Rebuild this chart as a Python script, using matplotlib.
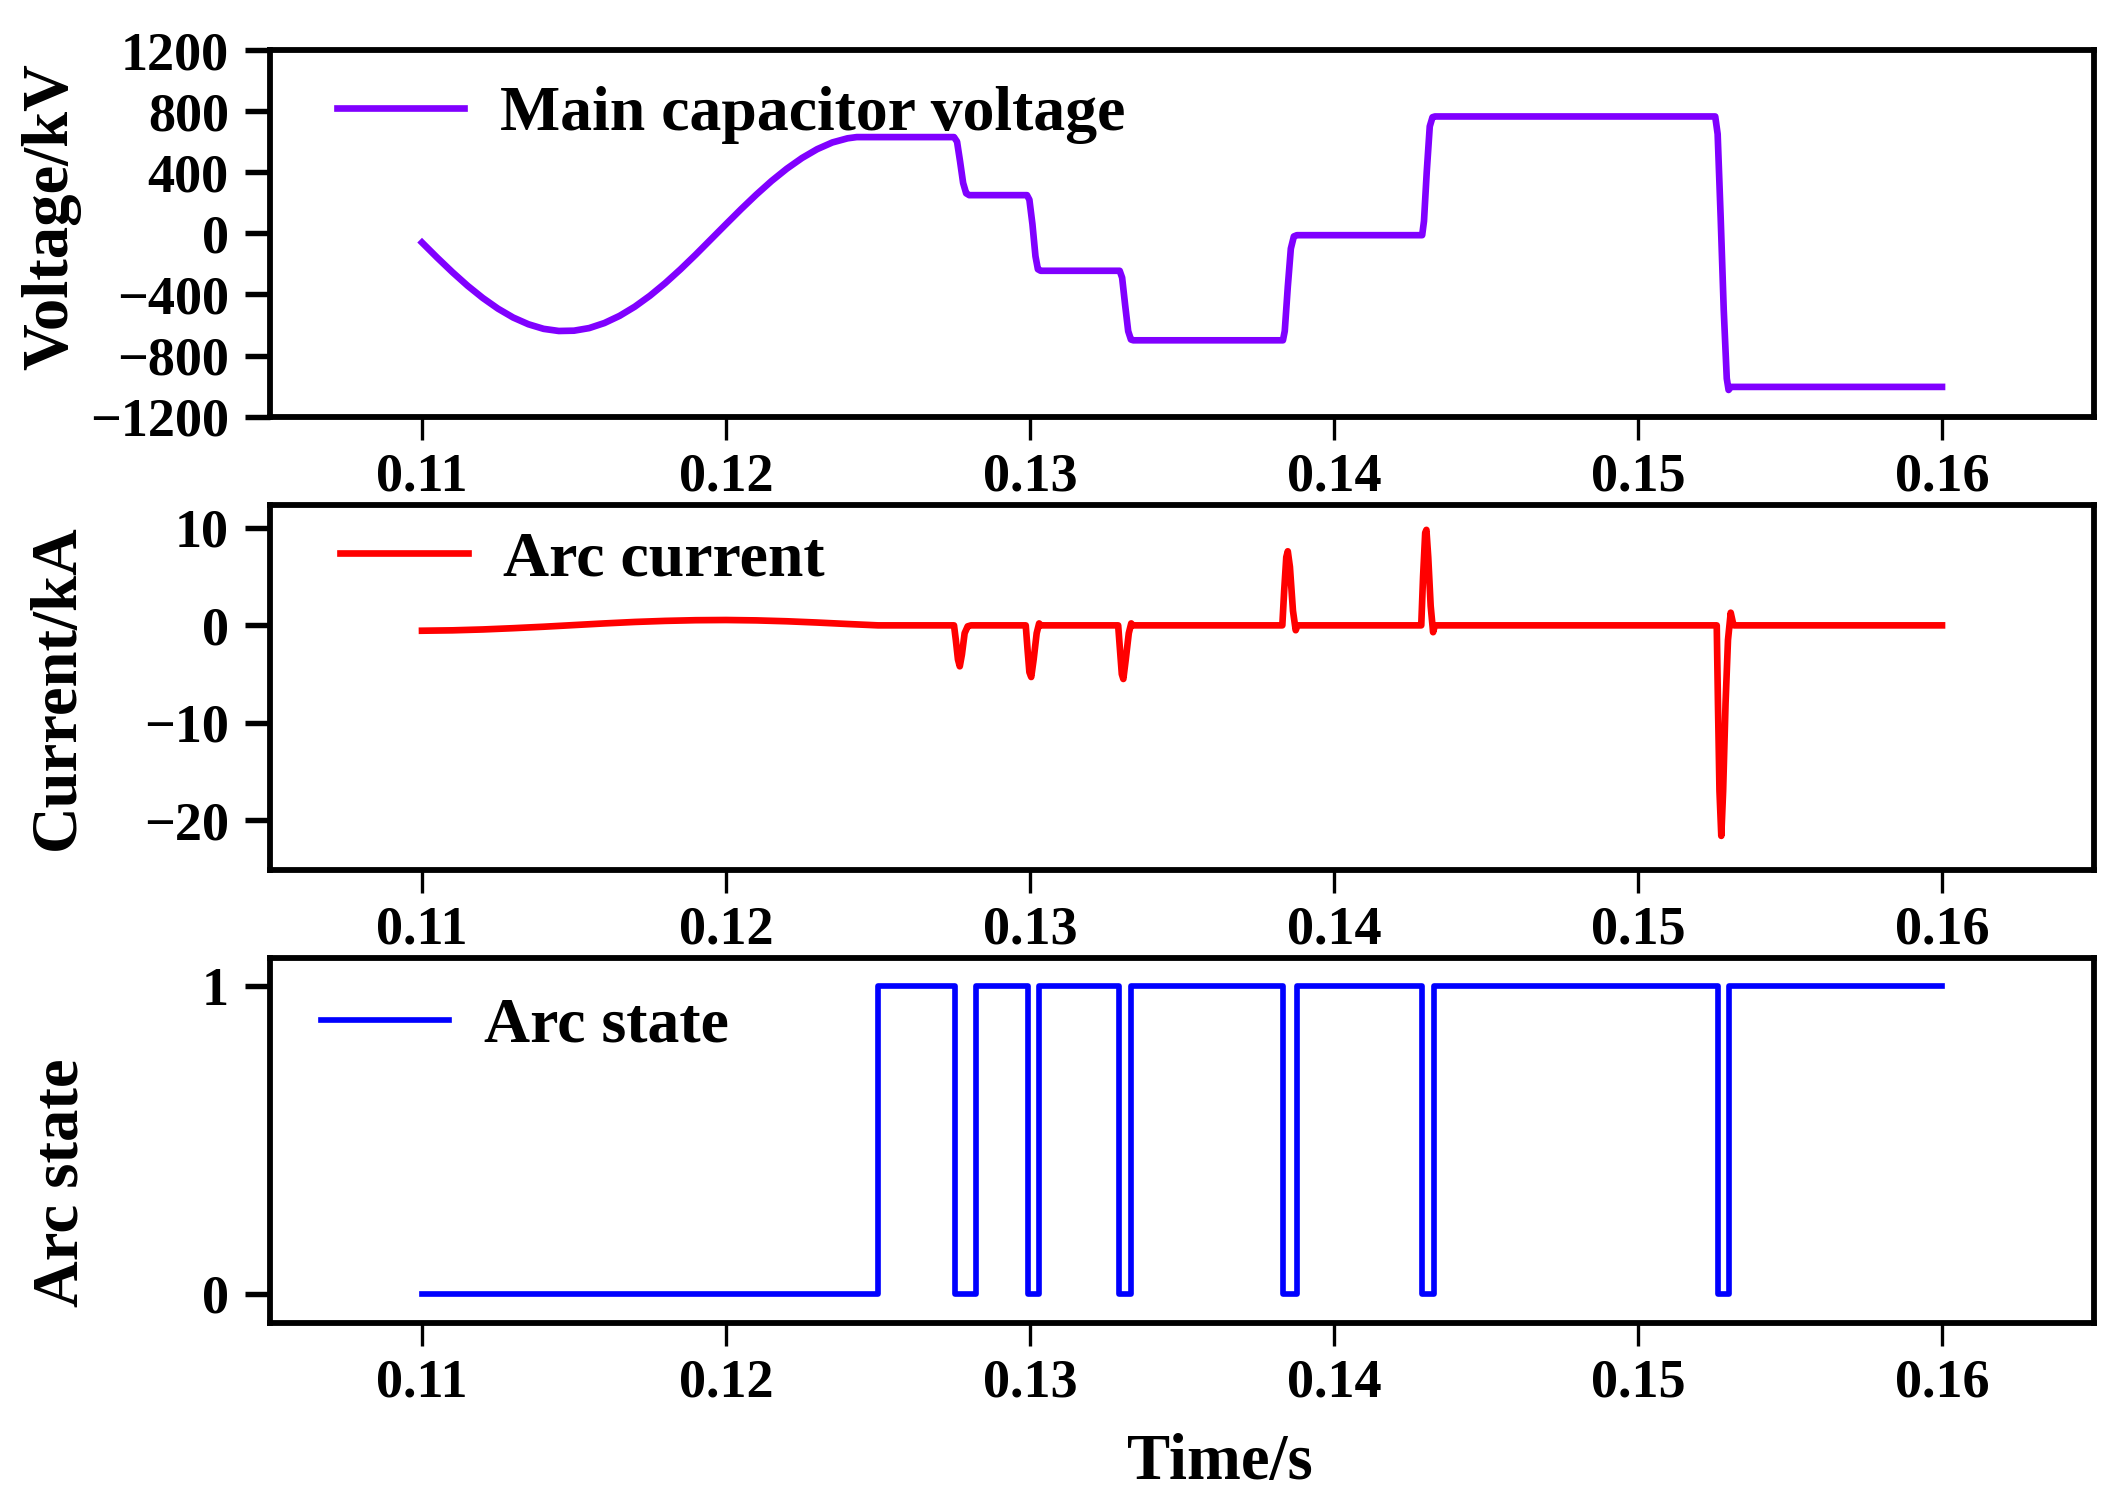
import matplotlib
matplotlib.use("Agg")
import matplotlib.pyplot as plt

# ---------------- data ----------------
t_volt = [0.1100, 0.1105, 0.1110, 0.1115, 0.1120, 0.1125, 0.1130, 0.1135, 0.1140, 0.1145,
          0.1150, 0.1155, 0.1160, 0.1165, 0.1170, 0.1175, 0.1180, 0.1185, 0.1190, 0.1195,
          0.1200, 0.1205, 0.1210, 0.1215, 0.1220, 0.1225, 0.1230, 0.1235, 0.1240, 0.1243,
          0.12750, 0.12760, 0.12770, 0.12780, 0.12790, 0.12800,
          0.12990, 0.12998, 0.13008, 0.13018, 0.13026, 0.13035,
          0.13295, 0.13303, 0.13313, 0.13323, 0.13332, 0.13340,
          0.13832, 0.13838, 0.13848, 0.13858, 0.13868, 0.13878,
          0.14290, 0.14296, 0.14305, 0.14315, 0.14324, 0.14332,
          0.15254, 0.15262, 0.15272, 0.15282, 0.15292, 0.15298, 0.15306, 0.16000]
v_volt = [-60, -159, -254, -343, -423, -493, -551, -595, -625, -639,
          -637, -620, -587, -540, -480, -408, -326, -236, -140, -40,
          60, 159, 254, 343, 423, 493, 551, 595, 622, 630,
          630, 600, 470, 330, 262, 250,
          250, 220, 60, -150, -235, -245,
          -245, -290, -470, -640, -695, -700,
          -700, -640, -350, -100, -20, -12,
          -12, 80, 400, 700, 760, 765,
          765, 650, 100, -500, -950, -1025, -1005, -1005]

t_curr = [0.110, 0.111, 0.112, 0.113, 0.114, 0.115, 0.116, 0.117, 0.118, 0.119,
          0.120, 0.121, 0.122, 0.123, 0.124, 0.125,
          0.12750, 0.12756, 0.12763, 0.12769, 0.12776, 0.12785, 0.12795, 0.12806,
          0.12986, 0.12992, 0.12998, 0.13004, 0.13012, 0.13022, 0.13030, 0.13036,
          0.13290, 0.13296, 0.13302, 0.13307, 0.13315, 0.13325, 0.13333, 0.13338,
          0.13830, 0.13836, 0.13843, 0.13848, 0.13855, 0.13865, 0.13874, 0.13880,
          0.14287, 0.14293, 0.14300, 0.14304, 0.14310, 0.14318, 0.14326, 0.14332,
          0.15259, 0.15263, 0.15268, 0.15274, 0.15280, 0.15288, 0.15296, 0.15305, 0.15312, 0.15316,
          0.16000]
i_curr = [-0.55, -0.51, -0.42, -0.29, -0.14, 0.03, 0.20, 0.35, 0.46, 0.53,
          0.55, 0.51, 0.42, 0.29, 0.14, 0.0,
          0.0, -1.5, -3.5, -4.2, -3.0, -0.8, -0.1, 0.0,
          0.0, -2.5, -4.8, -5.3, -3.5, -0.8, 0.2, 0.0,
          0.0, -2.5, -5.0, -5.5, -3.5, -0.8, 0.2, 0.0,
          0.0, 3.5, 7.0, 7.6, 6.0, 1.5, -0.5, 0.0,
          0.0, 5.0, 9.5, 9.8, 7.0, 2.0, -0.7, 0.0,
          0.0, -8.0, -17.0, -21.6, -17.0, -8.0, -1.5, 1.3, 0.3, 0.0,
          0.0]

t_state = [0.110, 0.125, 0.12754, 0.12821, 0.12993, 0.13031, 0.13293, 0.13331,
           0.13833, 0.13877, 0.14290, 0.14328, 0.15262, 0.15300, 0.160]
s_state = [0, 1, 0, 1, 0, 1, 0, 1, 0, 1, 0, 1, 0, 1, 1]

x_ticks = [0.11, 0.12, 0.13, 0.14, 0.15, 0.16]
x_ticklabels = ["0.11", "0.12", "0.13", "0.14", "0.15", "0.16"]
v_ticks = [-1200, -800, -400, 0, 400, 800, 1200]
i_ticks = [-20, -10, 0, 10]
s_ticks = [0, 1]

# ---------------- style ----------------
plt.rcParams['font.family'] = ['Liberation Serif', 'DejaVu Serif']
plt.rcParams['font.weight'] = 'bold'
plt.rcParams['axes.labelweight'] = 'bold'

FIG_W, FIG_H = 2115, 1502
fig = plt.figure(figsize=(FIG_W / 300, FIG_H / 300), dpi=300)

L = 270 / FIG_W
W = (2094 - 270) / FIG_W
boxes = [(50, 416.7), (505, 870), (958, 1323)]
axes = []
for top, bot in boxes:
    ax = fig.add_axes([L, 1 - bot / FIG_H, W, (bot - top) / FIG_H])
    axes.append(ax)

TICK_FS = 13
LABEL_FS = 15.5
LEG_FS = 15.3
LW = 1.6

series = [
    (t_volt, v_volt, '#8000ff', 'Main capacitor voltage', 'Voltage/kV', v_ticks, (-1200, 1200), None),
    (t_curr, i_curr, '#ff0000', 'Arc current', 'Current/kA', i_ticks, (-25.1, 12.35), None),
    (t_state, s_state, '#0000ff', 'Arc state', 'Arc state', s_ticks, (-0.096, 1.092), 'steps-post'),
]
leg_pos = [(0.0367, 0.823), (0.0384, 0.848), (0.028, 0.812)]
ylab_pos = [(-0.1036, 0.545), (-0.0998, 0.502), (-0.0976, 0.384)]

for ax, (t, y, col, lab, ylab, yt, ylim, ds), lp, yp in zip(axes, series, leg_pos, ylab_pos):
    if ds:
        ax.plot(t, y, color=col, lw=LW * 0.85, drawstyle=ds, label=lab)
    else:
        ax.plot(t, y, color=col, lw=LW, label=lab)
    ax.set_xlim(0.105, 0.165)
    ax.set_ylim(*ylim)
    ax.set_xticks(x_ticks)
    ax.set_xticklabels(x_ticklabels)
    ax.set_yticks(yt)
    ax.tick_params(axis='x', direction='out', length=5.6, width=0.8, pad=3,
                   labelsize=TICK_FS)
    ax.tick_params(axis='y', direction='out', length=5.9, width=1.3, pad=4,
                   labelsize=TICK_FS)
    for lbl in ax.get_xticklabels() + ax.get_yticklabels():
        lbl.set_fontweight('bold')
    for sp in ax.spines.values():
        sp.set_linewidth(1.4)
    ax.set_ylabel(ylab, fontsize=LABEL_FS, fontweight='bold')
    ax.yaxis.set_label_coords(*yp)
    ax.legend(loc='center left', bbox_to_anchor=lp, frameon=False,
              prop={'size': LEG_FS, 'weight': 'bold'}, handlelength=2.0,
              handletextpad=0.55, borderpad=0, borderaxespad=0)

axes[2].set_xlabel('Time/s', fontsize=LABEL_FS, fontweight='bold')
axes[2].xaxis.set_label_coords(0.521, -0.30)

fig.savefig('out.png', dpi=300)
